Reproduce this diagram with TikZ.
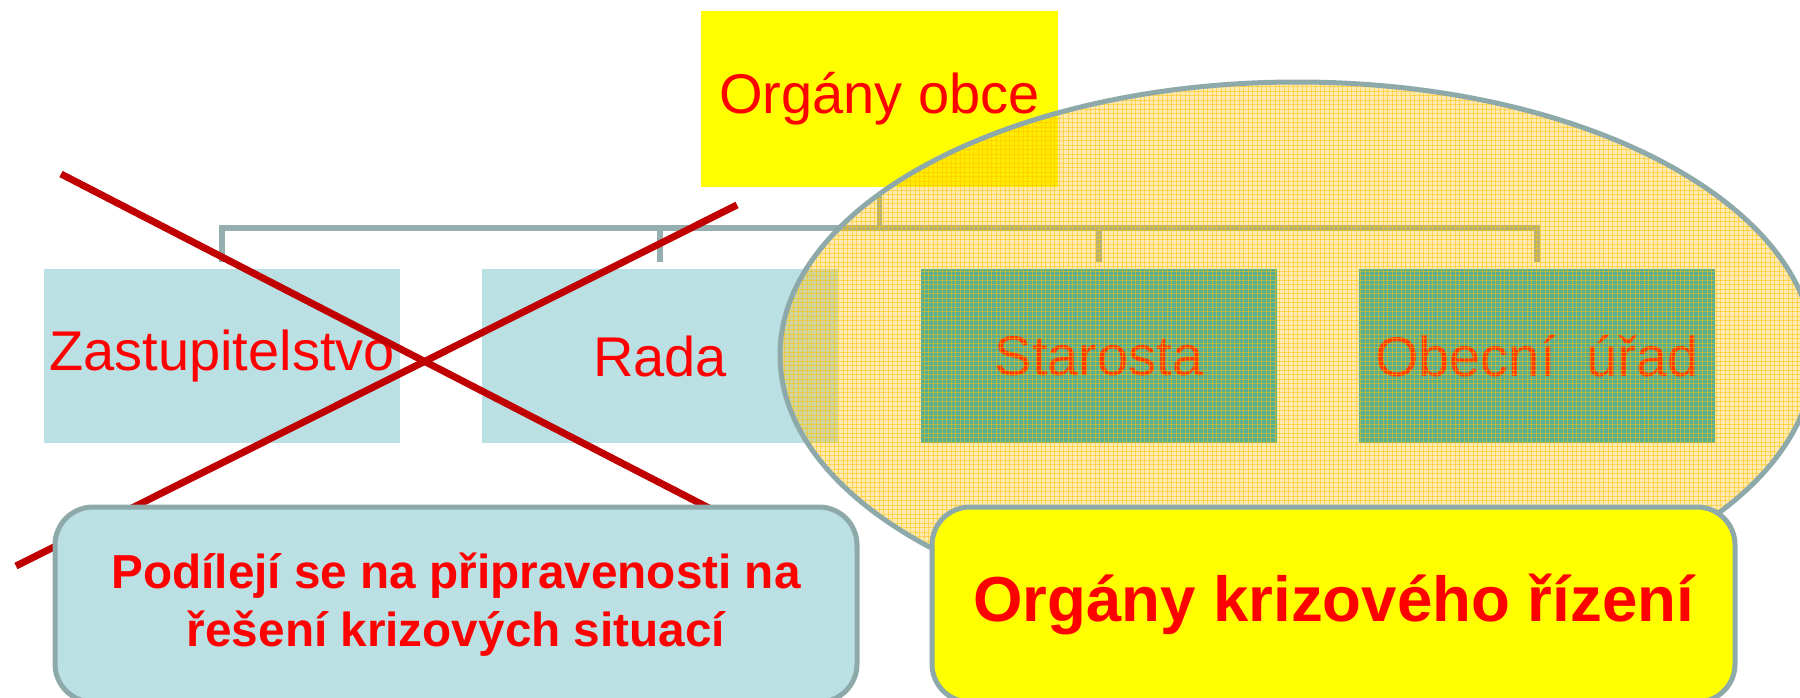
\documentclass[tikz,border=0pt]{standalone}
\usepackage{fontspec}
\setmainfont{Liberation Sans}
\definecolor{lightblue}{HTML}{BBE0E3}
\definecolor{tealbox}{HTML}{12A8D2}
\definecolor{connc}{HTML}{95AEB0}
\definecolor{edgec}{HTML}{8EA9AA}
\definecolor{crossred}{HTML}{C00000}
\definecolor{patc}{HTML}{FFC000}
\definecolor{yel}{HTML}{FFFF00}
\begin{document}
\begin{tikzpicture}[x=1pt,y=-1pt,
  orgbox/.style={inner sep=0pt, minimum width=356pt, minimum height=174pt,
    text=red, font=\fontsize{56}{67}\selectfont},
  conn/.style={draw=connc, line width=5.5pt},
  crossline/.style={draw=crossred, line width=7pt},
  callout/.style={draw=edgec, line width=5pt, rounded corners=38pt,
    minimum width=802pt, minimum height=195pt, inner sep=0pt,
    text=red, align=center},
  gridline/.style={draw=patc, draw opacity=0.5, line width=1pt}
]
\useasboundingbox (0,0) rectangle (1800,697);
\fill[white] (0,0) rectangle (1800,697);

% top node
\node[orgbox, fill=yel, minimum width=357pt, minimum height=176pt] (top) at (879.5,99) {Orgány obce};

% children
\node[orgbox, fill=lightblue] (zast) at (222,356) {Zastupitelstvo};
\node[orgbox, fill=lightblue] (rada) at (660,356) {Rada};
\node[orgbox, fill=tealbox] (star) at (1099,356) {Starosta};
\node[orgbox, fill=tealbox] (urad) at (1537,356) {Obecní\ \ úřad};

% connectors
\foreach \c in {zast,rada,star,urad}{
  \draw[conn] ([yshift=-6pt]top.south) -- ++(0,35) -| ([yshift=7pt]\c.north);
}

% red cross
\coordinate (c1a) at (61,174);
\coordinate (c1b) at (740,524);
\coordinate (c2a) at (737,205);
\coordinate (c2b) at (16,566);
\draw[crossline] (c1a) -- (c1b);
\draw[crossline] (c2a) -- (c2b);

% patterned ellipse overlay
\fill[patc, fill opacity=0.3] (1297,355) ellipse [x radius=517, y radius=273];
\begin{scope}
  \clip (1297,355) ellipse [x radius=517, y radius=273];
  \foreach \x in {780,784.5,...,1815} \draw[gridline] (\x,80) -- (\x,630);
  \foreach \y in {82,86.5,...,630} \draw[gridline] (778,\y) -- (1816,\y);
\end{scope}
\draw[edgec, line width=5pt] (1297,355) ellipse [x radius=517, y radius=273];

% bottom callouts
\node[callout, fill=lightblue, font=\fontsize{47.7}{58}\selectfont\bfseries] (prep) at (456,604.5)
  {Podílejí se na připravenosti na\\řešení krizových situací};
\node[callout, fill=yel, minimum width=803pt, font=\fontsize{63.6}{70}\selectfont\bfseries] (kriz) at (1333.5,604.5)
  {Orgány krizového řízení};
\end{tikzpicture}
\end{document}
